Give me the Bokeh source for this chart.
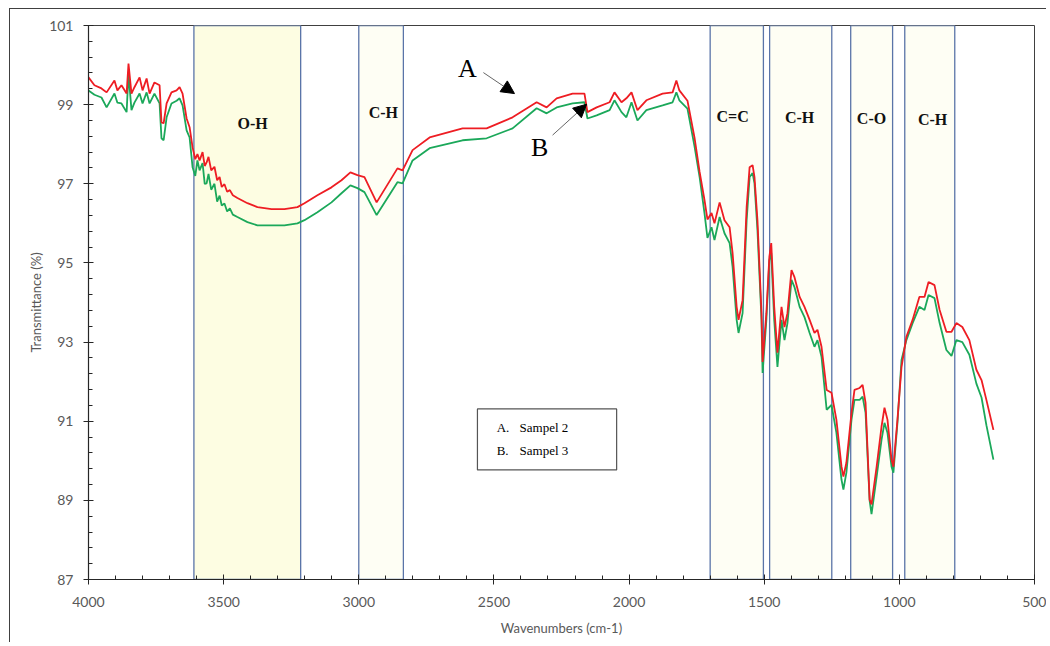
from bokeh.plotting import figure
from bokeh.models import Range1d, FixedTicker, Label, Arrow, NormalHead, BoxAnnotation, ColumnDataSource
from bokeh.core.properties import value
from bokeh.embed import file_html
from bokeh.resources import INLINE

# ---------------- data ----------------
wavenumber = [4000, 3978, 3952, 3933, 3904, 3893, 3878, 3859, 3852, 3841, 3830, 3811, 3800, 3785, 3774,
              3756, 3737, 3730, 3722, 3711, 3693, 3674, 3663, 3652, 3637, 3626,
              3615, 3605, 3597, 3589, 3578, 3570, 3563, 3556, 3546, 3534, 3524, 3515, 3507, 3497, 3487,
              3477, 3466, 3449,
              3412, 3375, 3323, 3275, 3227, 3201, 3153, 3101,
              3064, 3031, 3005, 2979, 2934, 2857, 2838, 2801, 2738, 2616, 2527, 2431, 2342, 2305, 2268,
              2209, 2165, 2154, 2120, 2072, 2054, 2028, 2010, 1991, 1969, 1936, 1876, 1839, 1825, 1814,
              1784, 1758, 1739, 1721, 1710, 1695, 1684, 1665, 1647, 1628, 1617, 1602, 1595, 1580, 1565,
              1554, 1543, 1536, 1525, 1510, 1506, 1492, 1481, 1474, 1463, 1451, 1436, 1425, 1414, 1399,
              1388, 1369, 1351, 1332, 1314, 1303, 1288, 1269, 1251, 1233, 1214, 1207, 1196, 1177, 1166,
              1147, 1136, 1125, 1110, 1103, 1084, 1066, 1055, 1044, 1029, 1022, 1007, 992, 974, 951,
              926, 907, 892, 870, 851, 826, 807, 789, 767, 741, 715, 696, 678, 652]

sampel2 = [99.69, 99.49, 99.41, 99.31, 99.61, 99.36, 99.49, 99.28, 100.04, 99.28, 99.44, 99.69, 99.36, 99.66, 99.28,
           99.56, 99.49, 98.55, 98.53, 99.03, 99.31, 99.36, 99.44, 99.28, 98.65, 98.43,
           97.92, 97.62, 97.75, 97.59, 97.80, 97.45, 97.54, 97.68, 97.34, 97.43, 97.09, 97.17, 96.92, 96.99, 96.80,
           96.84, 96.71, 96.64,
           96.51, 96.41, 96.36, 96.36, 96.41, 96.51, 96.71, 96.91,
           97.09, 97.29, 97.22, 97.17, 96.53, 97.39, 97.34, 97.85, 98.17, 98.40, 98.40, 98.68, 99.06, 98.93, 99.16,
           99.28, 99.28, 98.81, 98.93, 99.06, 99.31, 99.06, 99.16, 99.31, 98.86, 99.11, 99.28, 99.31, 99.61, 99.36,
           99.10, 98.17, 97.30, 96.59, 96.10, 96.26, 96.00, 96.53, 96.08, 95.90, 95.25, 93.89, 93.56, 94.06, 96.41,
           97.42, 97.47, 97.17, 96.08, 93.73, 92.50, 93.73, 95.15, 95.50, 93.89, 92.73, 93.89, 93.38, 93.73, 94.82,
           94.64, 94.14, 93.89, 93.56, 93.23, 93.31, 92.88, 91.79, 91.72, 91.04, 89.85, 89.60, 89.95, 91.21, 91.79,
           91.84, 91.92, 91.46, 89.02, 88.90, 89.85, 90.86, 91.34, 91.04, 90.03, 89.85, 91.04, 92.37, 93.13, 93.56,
           94.14, 94.14, 94.52, 94.44, 93.81, 93.26, 93.26, 93.48, 93.38, 93.05, 92.30, 92.04, 91.54, 90.78]

sampel3 = [99.36, 99.25, 99.18, 98.93, 99.28, 99.05, 99.03, 98.81, 99.79, 98.86, 99.05, 99.28, 99.03, 99.31, 99.03,
           99.28, 99.03, 98.15, 98.10, 98.68, 99.03, 99.10, 99.16, 98.98, 98.35, 98.17,
           97.42, 97.20, 97.59, 97.34, 97.52, 97.00, 97.01, 97.25, 96.85, 97.00, 96.55, 96.70, 96.45, 96.50, 96.30,
           96.38, 96.22, 96.16,
           96.03, 95.95, 95.95, 95.95, 96.00, 96.08, 96.28, 96.53,
           96.76, 96.96, 96.89, 96.79, 96.21, 97.04, 97.01, 97.59, 97.90, 98.10, 98.15, 98.40, 98.91, 98.78, 98.93,
           99.03, 99.06, 98.65, 98.73, 98.86, 99.11, 98.81, 98.68, 99.06, 98.60, 98.86, 98.98, 99.06, 99.31, 99.11,
           98.90, 97.95, 97.17, 96.26, 95.63, 95.90, 95.58, 96.16, 95.75, 95.50, 94.90, 93.56, 93.23, 93.73, 96.08,
           97.17, 97.27, 97.01, 95.83, 93.56, 92.22, 93.56, 95.07, 95.25, 93.56, 92.37, 93.56, 93.05, 93.48, 94.57,
           94.39, 93.89, 93.63, 93.23, 92.88, 93.05, 92.63, 91.29, 91.41, 90.71, 89.52, 89.27, 89.70, 91.04, 91.54,
           91.54, 91.62, 91.21, 89.00, 88.65, 89.60, 90.53, 90.96, 90.71, 89.85, 89.70, 90.96, 92.55, 93.05, 93.48,
           93.89, 93.81, 94.19, 94.11, 93.48, 92.80, 92.65, 93.05, 93.00, 92.68, 91.95, 91.60, 90.90, 90.03]

band_high = [3610, 3000, 1700, 1480, 1180, 980]
band_low = [3215, 2835, 1503, 1250, 1025, 795]
band_names = ["O-H", "C-H", "C=C", "C-H", "C-O", "C-H"]

x_ticks = [4000, 3500, 3000, 2500, 2000, 1500, 1000, 500]
y_ticks = [87, 89, 91, 93, 95, 97, 99, 101]

legend_lines = [("A.", "Sampel 2"), ("B.", "Sampel 3")]

# ---------------- figure ----------------
p = figure(width=1037, height=634, output_backend="svg", toolbar_location=None,
           x_range=Range1d(4000, 500), y_range=Range1d(87, 101),
           min_border_left=78, min_border_right=13, min_border_top=16, min_border_bottom=64)
p.margin = (8, 0, 0, 9)
p.styles = {"border-left": "1.5px solid #404040", "border-top": "1.5px solid #404040"}
p.xgrid.visible = False
p.ygrid.visible = False
p.outline_line_color = "#404040"
p.outline_line_width = 1
p.background_fill_color = "white"
p.border_fill_color = "white"

# bands
band_fill = ["#FDFDE2"] + ["#FEFEF4"] * 5
bsrc = ColumnDataSource(dict(left=band_high, right=band_low, fill=band_fill, name=band_names))
p.quad(left="left", right="right", bottom=87, top=101, source=bsrc,
       fill_color="fill", line_color="#5A74A8", line_width=1.3)

label_x = [3393, 2909, 1617, 1369, 1103, 877]
label_y = [98.53, 98.81, 98.70, 98.68, 98.65, 98.63]
p.text(x=label_x, y=label_y, text=band_names, text_font=value("Liberation Serif"),
       text_font_style="bold", text_font_size="16px", text_align="center",
       text_baseline="middle", text_color="#111111")

# spectra
p.line(wavenumber, sampel3, line_color="#1BA85A", line_width=1.8)
p.line(wavenumber, sampel2, line_color="#EE1D23", line_width=1.8)

# axes
for ax in (p.xaxis[0], p.yaxis[0]):
    ax.axis_line_color = "#262626"
    ax.axis_line_width = 1.2
    ax.major_tick_line_color = "#262626"
    ax.minor_tick_line_color = "#262626"
    ax.major_tick_in = 5
    ax.major_tick_out = 5
    ax.minor_tick_in = 4
    ax.minor_tick_out = 0
    ax.major_label_text_font = "Lato"
    ax.major_label_text_font_size = "14px"
    ax.major_label_text_color = "#595959"
    ax.axis_label_text_font = "Lato"
    ax.axis_label_text_font_size = "13px"
    ax.axis_label_text_font_style = "normal"
    ax.axis_label_text_color = "#595959"

p.xaxis.ticker = FixedTicker(ticks=x_ticks, minor_ticks=list(range(500, 4001, 100)))
p.yaxis.ticker = FixedTicker(ticks=y_ticks, minor_ticks=[round(87 + 0.4 * i, 2) for i in range(36)])
p.xaxis.axis_label = "Wavenumbers (cm-1)"
p.yaxis.axis_label = "Transmittance (%)"
p.xaxis.major_label_standoff = 12
p.yaxis.major_label_standoff = 10
p.xaxis.axis_label_standoff = 10
p.yaxis.axis_label_standoff = 2

# A / B annotations
p.add_layout(Label(x=2598, y=99.915, text="A", text_font="Liberation Serif", text_font_size="26px",
                   text_align="center", text_baseline="middle", text_color="black"))
p.add_layout(Label(x=2331, y=97.92, text="B", text_font="Liberation Serif", text_font_size="26px",
                   text_align="center", text_baseline="middle", text_color="black"))
p.add_layout(Arrow(x_start=2539, y_start=99.81, x_end=2424, y_end=99.28, line_color="#666666",
                   line_width=1, end=NormalHead(size=13, fill_color="black", line_color="black")))
p.add_layout(Arrow(x_start=2283, y_start=98.23, x_end=2157, y_end=99.01, line_color="#666666",
                   line_width=1, end=NormalHead(size=13, fill_color="black", line_color="black")))

# legend box
p.add_layout(BoxAnnotation(left=2561, right=2046, bottom=89.77, top=91.31, fill_color="white",
                           fill_alpha=1, line_color="#555555", line_width=1.2, line_alpha=1))
for i, (k, name) in enumerate(legend_lines):
    yy = 90.83 - i * 0.58
    p.add_layout(Label(x=2490, y=yy, text=k, text_font="Liberation Serif", text_font_size="13px",
                       text_baseline="middle", text_color="black"))
    p.add_layout(Label(x=2405, y=yy, text=name, text_font="Liberation Serif", text_font_size="13px",
                       text_baseline="middle", text_color="black"))

assert len(wavenumber) == len(sampel2) == len(sampel3)
open("out.html", "w").write(file_html(p, INLINE))
